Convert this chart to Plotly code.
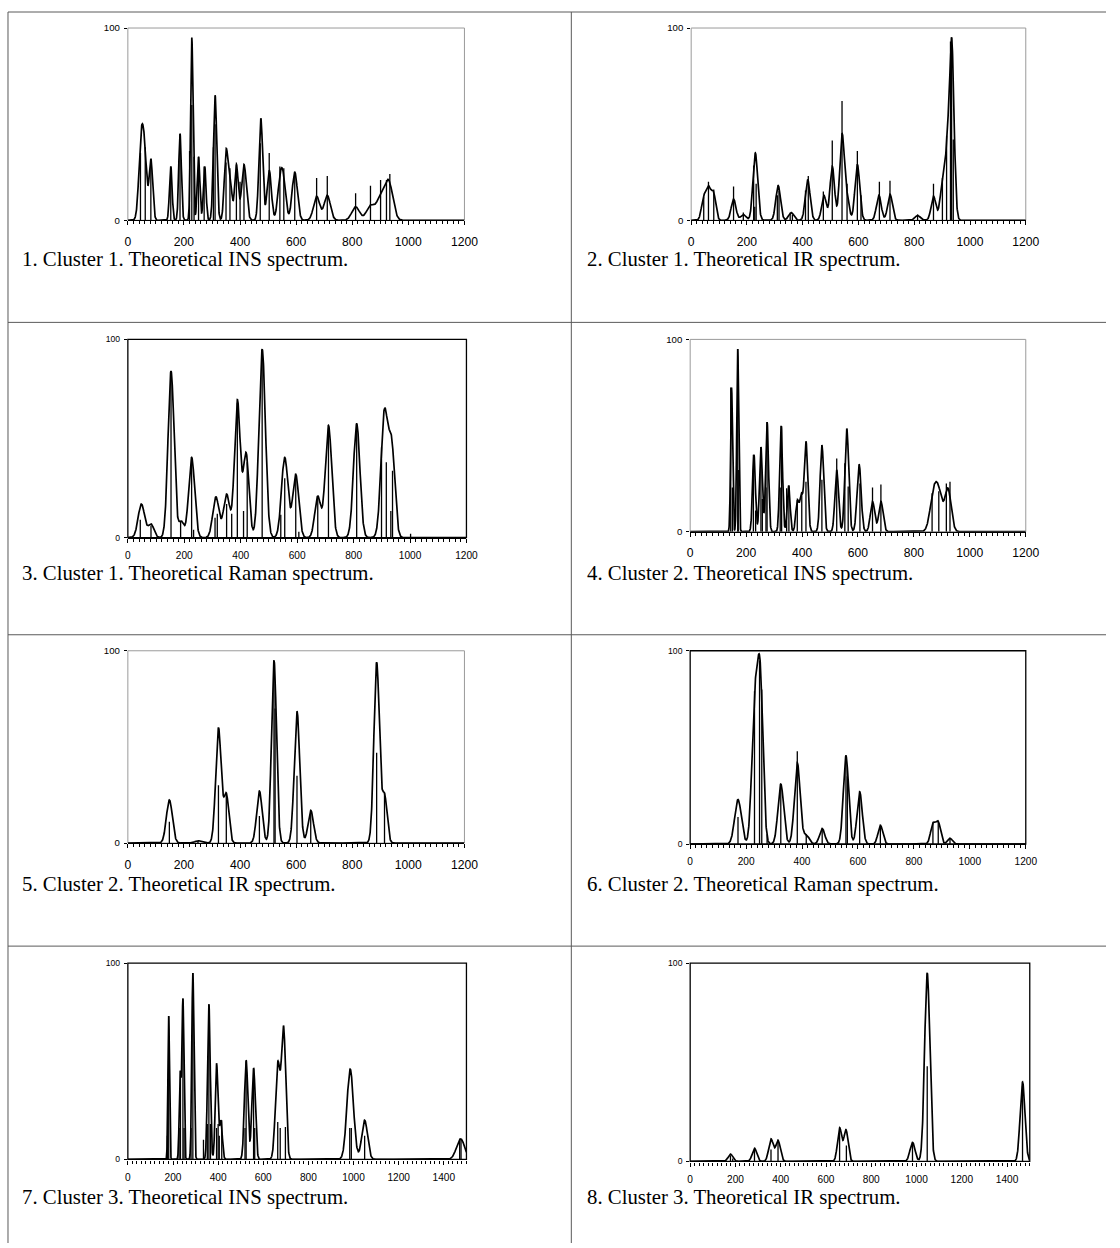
import numpy as np
import plotly.graph_objects as go

# ---------------- DATA ----------------
CAPTIONS = [
    "1. Cluster 1. Theoretical INS spectrum.",
    "2. Cluster 1. Theoretical IR spectrum.",
    "3. Cluster 1. Theoretical Raman spectrum.",
    "4. Cluster 2. Theoretical INS spectrum.",
    "5. Cluster 2. Theoretical IR spectrum.",
    "6. Cluster 2. Theoretical Raman spectrum.",
    "7. Cluster 3. Theoretical INS spectrum.",
    "8. Cluster 3. Theoretical IR spectrum.",
]
X_MAX = [1200, 1200, 1200, 1200, 1200, 1200, 1500, 1500]
X_TICKS_1200 = [0, 200, 400, 600, 800, 1000, 1200]
X_TICKS_1500 = [0, 200, 400, 600, 800, 1000, 1200, 1400]
Y_TICKS = [0, 100]

# Panel 1: Cluster 1 INS
P1_ENV_X = [48, 61, 82, 153, 186, 228, 252, 274, 311, 350, 364, 387, 414, 474, 504, 542, 555, 595, 673, 711, 812, 865, 901, 930]
P1_ENV_H = [48, 39, 32, 28, 45, 95, 33, 28, 65, 37, 26, 29, 29, 53, 26, 24, 24, 25, 12.5, 13, 7, 8, 14, 21]
P1_ENV_W = [20, 17, 15, 11, 11, 10, 11, 11, 14, 15, 15, 15, 20, 16, 18, 20, 20, 22, 26, 26, 32, 34, 34, 34]
P1_STICK_X = [45, 62, 82, 153, 186, 220, 228, 236, 252, 272, 305, 311, 350, 364, 387, 400, 414, 472, 504, 542, 556, 595, 673, 711, 812, 865, 901, 922, 934]
P1_STICK_H = [35, 38, 32, 28, 45, 36, 60, 33, 33, 28, 38, 50, 30, 27, 30, 20, 28, 40, 35, 28, 27, 25, 22, 23, 14, 18, 21, 21, 24]

# Panel 2: Cluster 1 IR
P2_ENV_X = [45, 62, 80, 152, 187, 230, 312, 359, 418, 476, 506, 541, 559, 596, 673, 713, 812, 869, 899, 916, 934]
P2_ENV_H = [13, 18, 15, 11, 3, 35, 18, 4, 21, 13, 28, 45, 15, 29, 13, 13.5, 2.5, 12.5, 18, 40, 95]
P2_ENV_W = [19, 19, 19, 20, 22, 20, 20, 22, 20, 19, 19, 20, 19, 20, 20, 20, 22, 20, 19, 19, 20]
P2_STICK_X = [45, 62, 81, 152, 187, 224, 228, 233, 309, 315, 355, 363, 410, 420, 474, 506, 541, 559, 596, 609, 675, 713, 812, 869, 901, 916, 930, 934, 940]
P2_STICK_H = [12, 20, 16, 17.5, 4, 28.5, 7, 19, 13, 15.5, 4, 3, 15.5, 23, 15, 41.5, 62, 19, 36, 13, 20, 20.5, 3, 19, 22, 44, 93, 95, 42]

# Panel 3: Cluster 1 Raman
P3_ENV_X = [48, 82, 153, 189, 226, 312, 350, 388, 419, 476, 556, 595, 673, 711, 811, 909, 935]
P3_ENV_H = [17, 7, 84, 8.5, 40.5, 20.6, 22, 69.6, 43, 95, 40.5, 32, 21, 56.6, 57.4, 65, 50.7]
P3_ENV_W = [27, 24, 25, 22, 25, 26, 26, 24, 24, 27, 27, 25, 25, 27, 27, 28, 26]
P3_STICK_X = [44, 82, 153, 187, 226, 233, 309, 317, 350, 368, 388, 410, 423, 476, 542, 556, 595, 606, 673, 711, 811, 899, 916, 932, 938, 1002]
P3_STICK_H = [9, 6, 80, 8, 40, 4, 10, 12, 17, 12, 68, 13.5, 38, 94, 11.5, 30, 30, 3, 20, 55, 56, 45.6, 38, 13.5, 33.8, 2]

# Panel 4: Cluster 2 INS
P4_ENV_X = [148, 170, 228, 253, 275, 325, 352, 383, 397, 414, 471, 524, 560, 604, 652, 682, 870, 890, 922]
P4_ENV_H = [75, 95, 40, 44, 57, 55, 24, 16.5, 20, 47, 45, 32, 53.6, 35, 15.7, 15.7, 23, 23, 22.6]
P4_ENV_W = [8, 8, 12, 12, 12, 12, 12, 13, 13, 15, 15, 15, 16, 17, 18, 18, 30, 30, 26]
P4_STICK_X = [145, 151, 170, 172, 226, 234, 253, 258, 271, 275, 322, 327, 345, 353, 383, 399, 414, 471, 524, 553, 565, 607, 652, 682, 865, 889, 916, 929]
P4_STICK_H = [75, 23, 95, 32, 40, 11, 44, 17, 23, 57, 23, 55, 22.6, 24, 16.5, 20, 26, 27, 38, 35.6, 23.5, 25, 23, 24.5, 20, 21, 25, 26]

# Panel 5: Cluster 2 IR
P5_ENV_X = [148, 250, 323, 351, 469, 521, 603, 652, 887, 915]
P5_ENV_H = [22.4, 1.2, 60, 26, 27, 95, 68.5, 17, 94, 26]
P5_ENV_W = [25, 25, 23, 21, 23, 21, 23, 23, 23, 21]
P5_STICK_X = [148, 250, 323, 351, 469, 521, 525, 603, 652, 887, 915]
P5_STICK_H = [11, 1, 30, 26, 14, 94, 70, 35, 17, 47, 26]

# Panel 6: Cluster 2 Raman
P6_ENV_X = [171, 230, 250, 324, 383, 415, 472, 557, 606, 680, 868, 887, 929]
P6_ENV_H = [23, 79, 95, 31, 42, 5, 8, 45.6, 27, 9.7, 11, 11.8, 3]
P6_ENV_W = [28, 24, 24, 24, 24, 24, 22, 22, 22, 20, 20, 20, 20]
P6_STICK_X = [171, 230, 248, 256, 275, 324, 383, 415, 472, 557, 562, 606, 680, 868, 887, 929]
P6_STICK_H = [14, 79, 95, 80, 5, 30, 48, 5, 8, 46, 35, 27, 9, 11, 11.8, 3]

# Panel 7: Cluster 3 INS
P7_ENV_X = [181, 232, 244, 288, 359, 393, 412, 524, 557, 664, 690, 985, 1049, 1474]
P7_ENV_H = [73, 45, 82, 95, 79, 49, 20, 50.5, 46.6, 50, 68, 46, 20, 10.5]
P7_ENV_W = [8, 10, 10, 11, 14, 14, 15, 18, 18, 24, 22, 34, 30, 42]
P7_STICK_X = [175, 181, 227, 233, 244, 249, 280, 288, 335, 352, 359, 366, 393, 400, 405, 416, 519, 524, 557, 562, 664, 675, 698, 983, 990, 1049, 1470, 1476]
P7_STICK_H = [12, 73, 16, 45, 82, 16, 16, 95, 10, 18, 79, 18, 16, 18, 12, 20, 16, 50, 46, 16, 19, 16, 16.5, 16, 16, 12, 10, 10]

# Panel 8: Cluster 3 IR
P8_ENV_X = [178, 284, 357, 388, 660, 688, 982, 1047, 1468]
P8_ENV_H = [3.7, 6.6, 11.3, 10.6, 17, 16, 9.6, 95, 40]
P8_ENV_W = [24, 24, 24, 24, 22, 22, 26, 27, 25]
P8_STICK_X = [178, 188, 284, 357, 388, 660, 690, 982, 1047, 1468]
P8_STICK_H = [3, 1.5, 6, 6, 11, 17, 8, 9, 48, 38]

PANELS = [
    (P1_ENV_X, P1_ENV_H, P1_ENV_W, P1_STICK_X, P1_STICK_H),
    (P2_ENV_X, P2_ENV_H, P2_ENV_W, P2_STICK_X, P2_STICK_H),
    (P3_ENV_X, P3_ENV_H, P3_ENV_W, P3_STICK_X, P3_STICK_H),
    (P4_ENV_X, P4_ENV_H, P4_ENV_W, P4_STICK_X, P4_STICK_H),
    (P5_ENV_X, P5_ENV_H, P5_ENV_W, P5_STICK_X, P5_STICK_H),
    (P6_ENV_X, P6_ENV_H, P6_ENV_W, P6_STICK_X, P6_STICK_H),
    (P7_ENV_X, P7_ENV_H, P7_ENV_W, P7_STICK_X, P7_STICK_H),
    (P8_ENV_X, P8_ENV_H, P8_ENV_W, P8_STICK_X, P8_STICK_H),
]

# ---------------- LAYOUT / STYLE ----------------
W, H = 1120, 1248
# calibration of the photographed page vs. target pixels (measured on earlier renders)
SX, OX = 0.986, 2.0
SY, OY = 0.990, 6.0
FS = 1 / 0.986


def px_x(x):
    return ((x - OX) / SX) / W


def px_y(y):
    return 1 - ((y - OY) / SY) / H


# plot-area boxes in target pixels: (left, right, top, bottom)
BOXES = [
    (127, 464, 28, 220), (691, 1026, 28, 220),
    (127, 466, 339, 537), (690, 1026, 339, 531),
    (127, 464, 650, 842), (690, 1026, 650, 843),
    (127, 466, 962, 1158), (690, 1030, 962, 1160),
]
DARK = [False, False, True, False, False, True, True, True]
CAP_Y = [259, 259, 572, 572, 883, 883, 1196, 1196]
CAP_X = [19, 585]


def envelope(xs, c, h, w):
    c = np.asarray(c, float); h = np.asarray(h, float)
    s = np.asarray(w, float) / 2.3548
    A = np.exp(-0.5 * ((c[:, None] - c[None, :]) / s[None, :]) ** 2)
    a = h.copy()
    for _ in range(400):
        a = np.clip(a + 0.5 * (h - A @ a), 0, None)
    return (a[None, :] * np.exp(-0.5 * ((xs[:, None] - c[None, :]) / s[None, :]) ** 2)).sum(axis=1)


fig = go.Figure()
shapes = []
annotations = []
TICKFONT = "Liberation Sans, Arial, sans-serif"

for i, (ex, eh, ew, sx, sh) in enumerate(PANELS):
    n = i + 1
    xa = "x" if n == 1 else f"x{n}"
    ya = "y" if n == 1 else f"y{n}"
    xmax = X_MAX[i]
    xs = np.arange(0, xmax + 0.5, 0.5)
    ys = envelope(xs, ex, eh, ew)
    stx, sty = [], []
    for f, hh in zip(sx, sh):
        stx += [f, f, None]
        sty += [0, hh, None]
    fig.add_trace(go.Scatter(x=stx, y=sty, mode="lines", xaxis=xa, yaxis=ya,
                             line=dict(color="black", width=1.3), hoverinfo="skip"))
    fig.add_trace(go.Scatter(x=xs, y=ys, mode="lines", xaxis=xa, yaxis=ya,
                             line=dict(color="black", width=1.7), hoverinfo="skip"))

    l, r, t, b = BOXES[i]
    dark = DARK[i]
    xkey = "xaxis" if n == 1 else f"xaxis{n}"
    ykey = "yaxis" if n == 1 else f"yaxis{n}"
    fsx = (10 if dark else 12) * FS
    fsy = (8.5 if dark else 9.5) * FS
    fig.layout[xkey] = dict(
        domain=[px_x(l), px_x(r)], anchor=ya, range=[0, xmax],
        tickvals=X_TICKS_1500 if xmax == 1500 else X_TICKS_1200,
        ticks="outside", ticklen=4, tickwidth=1, tickcolor="black",
        minor=dict(dtick=20, ticks="outside", ticklen=3, tickwidth=1, tickcolor="black"),
        showline=True, linecolor="black", linewidth=1.3,
        showgrid=False, zeroline=False, fixedrange=True,
        tickfont=dict(family=TICKFONT, size=fsx, color="black"),
        ticklabelstandoff=4 if dark else 6,
    )
    fig.layout[ykey] = dict(
        domain=[px_y(b), px_y(t)], anchor=xa, range=[0, 100],
        tickvals=Y_TICKS, ticks="outside", ticklen=3, tickwidth=1, tickcolor="black",
        showline=False, showgrid=False, zeroline=False, fixedrange=True,
        tickfont=dict(family=TICKFONT, size=fsy, color="black"),
        ticklabelstandoff=2,
    )
    shapes.append(dict(type="rect", xref=f"{xa} domain", yref=f"{ya} domain",
                       x0=0, x1=1, y0=0, y1=1, layer="below",
                       line=dict(color="black" if dark else "#9a9a9a",
                                 width=1.3 if dark else 1)))
    annotations.append(dict(text=CAPTIONS[i], xref="paper", yref="paper",
                            x=px_x(CAP_X[i % 2]), y=px_y(CAP_Y[i]),
                            xanchor="left", yanchor="middle", showarrow=False,
                            font=dict(family="Liberation Serif, Times New Roman, serif",
                                      size=20.5 * FS, color="black")))

# table rules
LINE = dict(color="#5a5a5a", width=1)
for yy in [12, 322, 634, 945]:
    shapes.append(dict(type="line", xref="paper", yref="paper",
                       x0=px_x(7), x1=1, y0=px_y(yy), y1=px_y(yy), line=LINE))
for xx in [7, 571]:
    shapes.append(dict(type="line", xref="paper", yref="paper",
                       x0=px_x(xx), x1=px_x(xx), y0=0, y1=px_y(12), line=LINE))

fig.update_layout(autosize=True, margin=dict(l=0, r=0, t=0, b=0),
                  paper_bgcolor="white", plot_bgcolor="white", showlegend=False,
                  shapes=shapes, annotations=annotations)

fig.write_html(
    "out.html",
    config={"displayModeBar": False, "responsive": True},
    default_width="100vw",
    default_height="100vh",
    post_script=("document.body.style.margin='0px';"
                 "document.documentElement.style.overflow='hidden';"
                 "document.body.style.overflow='hidden';"
                 "Plotly.Plots.resize(document.getElementById('{plot_id}'));"),
)
